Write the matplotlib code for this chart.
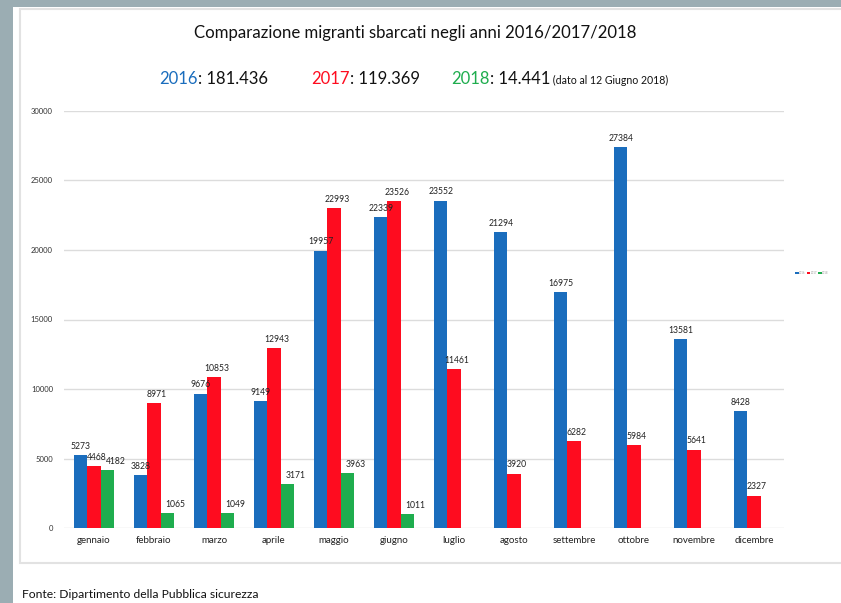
import matplotlib
matplotlib.use("Agg")
import matplotlib.pyplot as plt
from matplotlib.patches import Rectangle
import numpy as np

months = ["gennaio", "febbraio", "marzo", "aprile", "maggio", "giugno",
          "luglio", "agosto", "settembre", "ottobre", "novembre", "dicembre"]
v2016 = [5273, 3828, 9676, 9149, 19957, 22339, 23552, 21294, 16975, 27384, 13581, 8428]
v2017 = [4468, 8971, 10853, 12943, 22993, 23526, 11461, 3920, 6282, 5984, 5641, 2327]
v2018 = [4182, 1065, 1049, 3171, 3963, 1011]
yticks = [0, 5000, 10000, 15000, 20000, 25000, 30000]

C16, C17, C18 = "#1a6dbd", "#fe0c1f", "#1fad4e"
FONT = "Lato"
plt.rcParams['font.family'] = [FONT, 'DejaVu Sans']

W, H = 841, 603
fig = plt.figure(figsize=(W / 100, H / 100), dpi=100)
fig.patch.set_facecolor("#9badb3")

def fx(x):
    return x / W

def fy(y):
    return 1 - y / H

# white panel
fig.patches.append(Rectangle((fx(13), 0), 1, fy(7), transform=fig.transFigure,
                             facecolor="white", edgecolor="none", zorder=-10))
# chart frame
fig.patches.append(Rectangle((fx(20), fy(563)), 1, fy(9) - fy(563), transform=fig.transFigure,
                             facecolor="white", edgecolor="#e2e2e2", linewidth=1.5, zorder=-9))

ax = fig.add_axes([fx(64), fy(528), fx(784) - fx(64), fy(111) - fy(528)])
ax.set_facecolor("none")
x = np.arange(len(months))
bw = 0.222
b1 = ax.bar(x - bw, v2016, bw, color=C16, label="2016", zorder=3)
b2 = ax.bar(x, v2017, bw, color=C17, label="2017", zorder=3)
b3 = ax.bar(np.arange(len(v2018)) + bw, v2018, bw, color=C18, label="2018", zorder=3)

for bars, dx in ((b1, 0), (b2, 2), (b3, 6)):
    for r in bars:
        ax.annotate(f"{int(r.get_height())}", (r.get_x() + r.get_width() / 2, r.get_height()),
                    xytext=(dx, 3), textcoords="offset points", ha="center", va="bottom",
                    fontsize=6.2, color="#222222", zorder=5)

ax.set_xlim(-0.5, len(months) - 0.5)
ax.set_ylim(0, 30000)
ax.set_yticks(yticks)
ax.set_yticklabels([str(t) for t in yticks], fontsize=5.5, color="#333333")
ax.set_xticks(x)
ax.set_xticklabels(months, fontsize=7, color="#222222")
ax.tick_params(axis="both", length=0)
ax.tick_params(axis="x", pad=6)
ax.tick_params(axis="y", pad=8)
ax.yaxis.grid(True, color="#dcdcdc", linewidth=1, zorder=0)
for s in ax.spines.values():
    s.set_visible(False)

leg = ax.legend(loc="center left", bbox_to_anchor=(fx(794), fy(273)),
                bbox_transform=fig.transFigure, ncol=3, fontsize=2,
                frameon=False, handlelength=1.2, handleheight=1.2,
                handletextpad=0.2, columnspacing=0.4, borderpad=0)
for t in leg.get_texts():
    t.set_color("#999999")

fig.text(fx(415), fy(33), "Comparazione migranti sbarcati negli anni 2016/2017/2018",
         ha="center", va="center", fontsize=12.1, color="#111111")

# subtitle pieces
fig.canvas.draw()
r = fig.canvas.get_renderer()

def seq(x0, y0, parts):
    xx = x0
    for txt, col, fs in parts:
        t = fig.text(fx(xx), fy(y0), txt, ha="left", va="baseline", fontsize=fs, color=col)
        bb = t.get_window_extent(renderer=r)
        xx += bb.width

seq(159, 84, [("2016", C16, 12), (": 181.436", "#111111", 12)])
seq(311, 84, [("2017", C17, 12), (": 119.369", "#111111", 12)])
seq(451, 84, [("2018", C18, 12), (": 14.441", "#111111", 12),
              (" (dato al 12 Giugno 2018)", "#111111", 7.6)])

fig.text(fx(22), fy(594), "Fonte: Dipartimento della Pubblica sicurezza",
         ha="left", va="center", fontsize=8.7, color="#111111")

fig.savefig("out.png", dpi=100, facecolor=fig.get_facecolor())
